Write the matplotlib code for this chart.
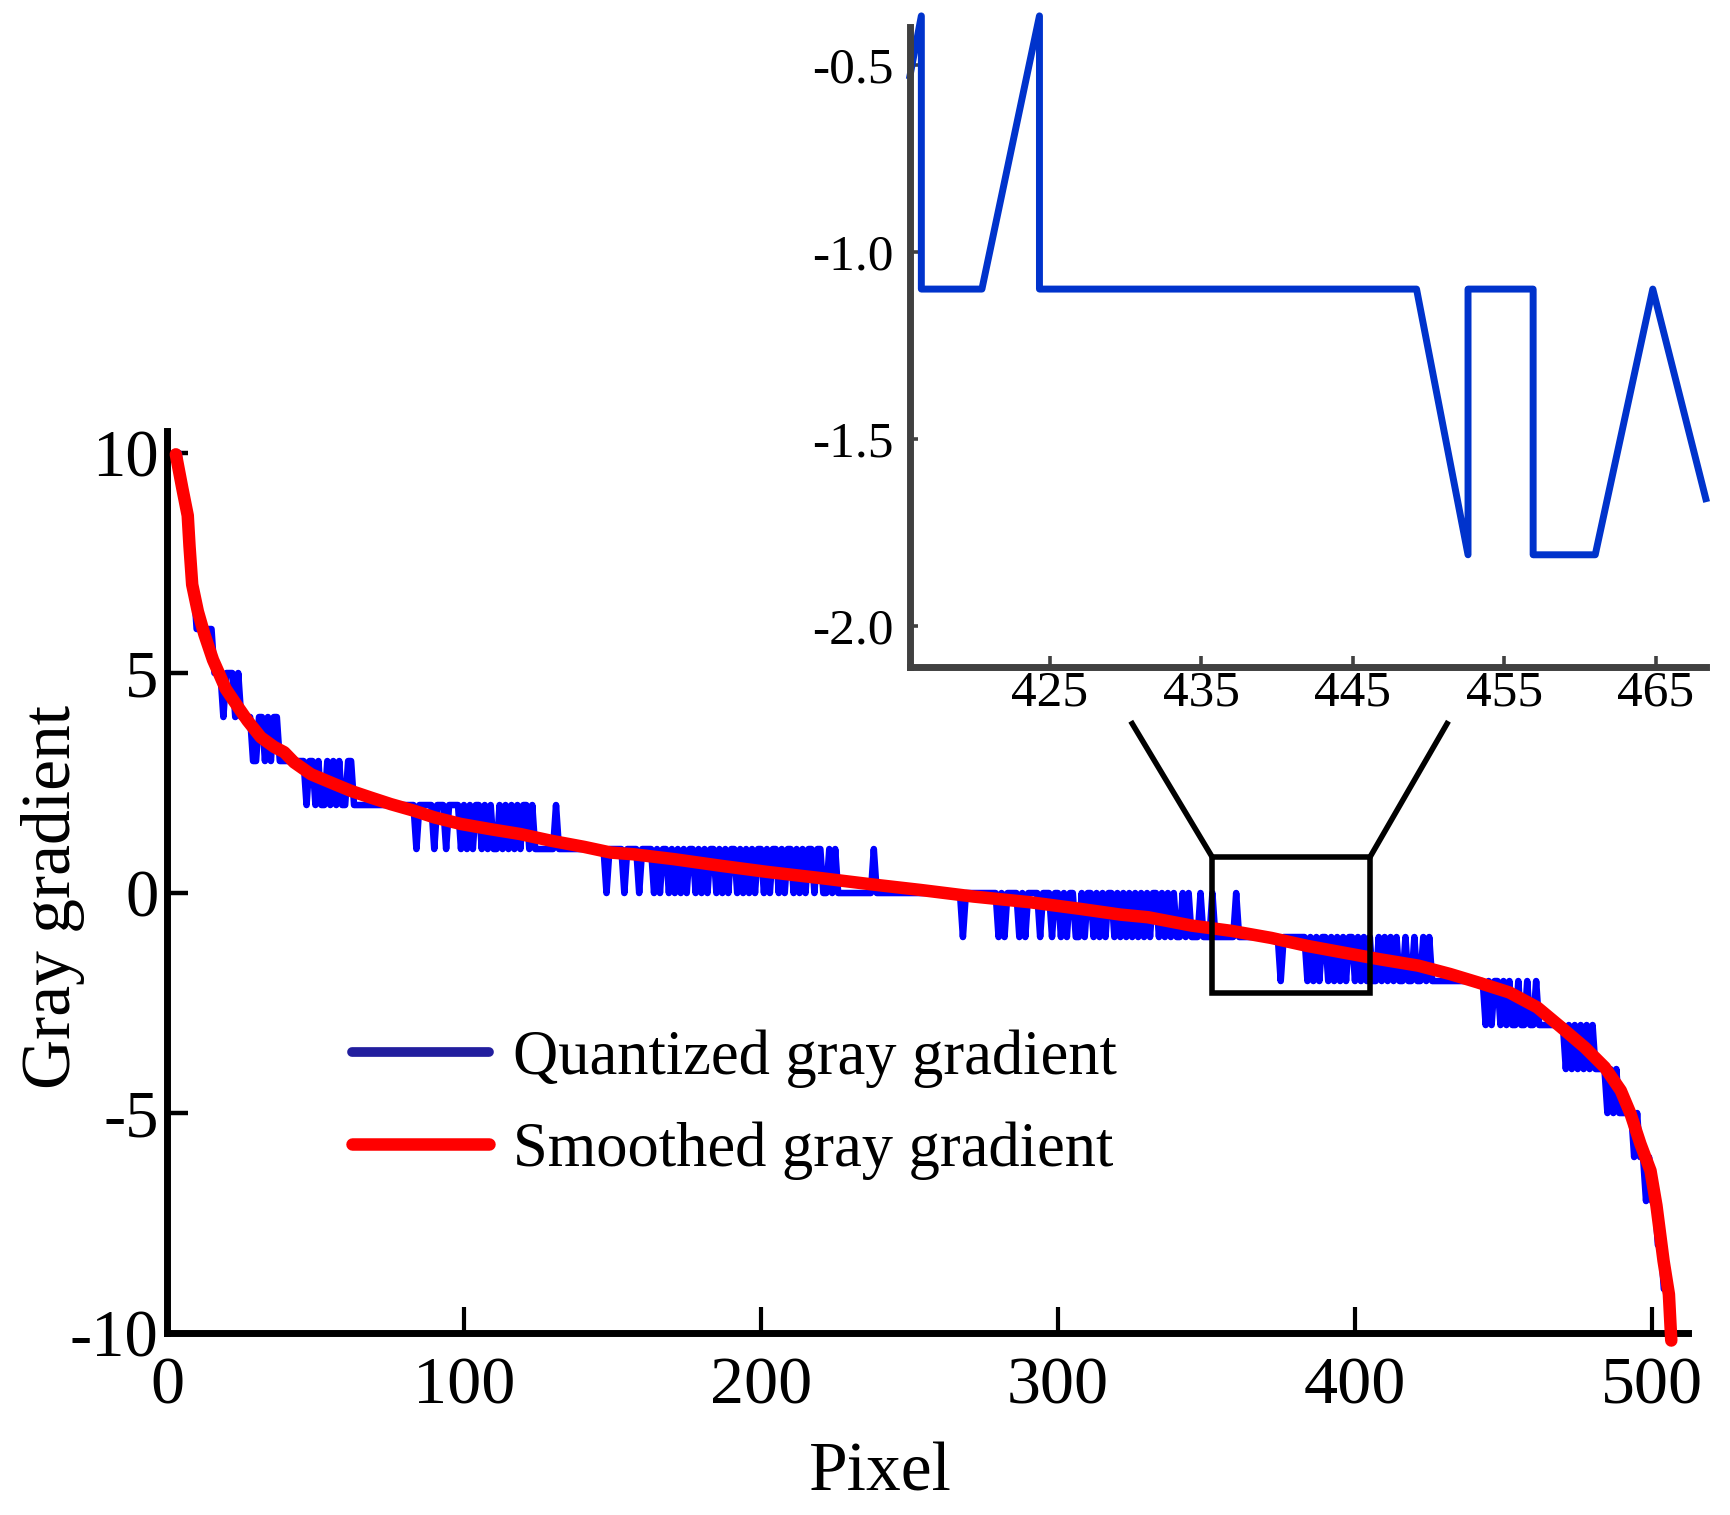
import numpy as np
import matplotlib
matplotlib.use("Agg")
import matplotlib.pyplot as plt
from matplotlib.lines import Line2D
from matplotlib.patches import Rectangle
from matplotlib.ticker import FormatStrFormatter

plt.rcParams['font.family'] = ['Liberation Serif', 'DejaVu Serif']
plt.rcParams['axes.unicode_minus'] = False

# quantized gray gradient, one value per pixel, first value is pixel 3
quantized = [
    10, 10, 9, 9, 8, 8, 7, 6, 6, 6, 6, 6, 6, 5,                     # 3-16
    5, 5, 4, 5, 5, 5, 4, 5, 4,                                      # 17-25
    4, 4, 4, 3, 3, 4, 4, 3, 4, 3, 4, 4, 3,                          # 26-38
    3, 3, 3, 3, 3, 3, 3,                                            # 39-45
    3, 2, 3, 3, 2, 3, 2, 2, 3, 2, 3, 2, 3, 2, 2, 3, 3, 2, 2,        # 46-64
    2, 2, 2, 2, 2, 2, 2, 2, 2, 2, 2, 2, 2, 2, 2, 2, 2, 2,           # 65-82
    2, 1, 2, 2, 2, 2, 2, 1, 2, 2, 2, 1, 2, 2, 2, 2, 1, 2, 1, 2,     # 83-102
    1, 2, 2, 1, 2, 1, 2, 1, 1, 2, 1, 2, 1, 2, 1, 2, 1, 2, 2, 1,     # 103-122
    2, 1, 1, 1, 1, 1, 1, 1, 2, 1,                                   # 123-132
    1, 1, 1, 1, 1, 1, 1, 1, 1, 1, 1, 1, 1,                          # 133-145
    1, 1, 0, 1, 1, 1, 1, 1, 0, 1, 1, 1, 1, 0, 1, 1, 1, 1, 0, 1,     # 146-165
    0, 1, 1, 0, 1, 0, 1, 0, 1, 0, 1, 1, 0, 1, 0, 1, 0, 1, 1, 0,     # 166-185
    1, 0, 1, 0, 1, 1, 0, 1, 0, 1, 0, 1, 0, 1, 1, 0, 1, 0, 1, 1,     # 186-205
    0, 1, 0, 1, 1, 0, 1, 0, 1, 0, 1, 1, 0, 1, 1, 0, 0, 1, 0, 1,     # 206-225
    0, 0, 0, 0, 0, 0, 0, 0, 0, 0, 0, 0, 1, 0,                       # 226-239
    0, 0, 0, 0, 0, 0, 0, 0, 0, 0, 0, 0, 0, 0, 0, 0, 0, 0, 0, 0,     # 240-259
    0, 0, 0, 0, 0, 0, 0,                                            # 260-266
    0, -1, 0, 0, 0, 0, 0, 0, 0, 0, 0, 0, 0, -1, 0, -1, 0, 0, 0, 0,  # 267-286
    -1, 0, -1, 0, 0, 0, 0, -1, 0, 0, 0, -1, 0, 0, -1, 0, -1, 0, 0, -1,  # 287-306
    -1, 0, -1, 0, 0, -1, 0, -1, 0, -1, 0, 0, -1, 0, -1, 0, -1, 0, -1, 0,  # 307-326
    -1, 0, -1, 0, -1, 0, 0, -1, 0, -1, 0, -1, 0, -1, -1, 0, -1, 0, -1, -1,  # 327-346
    -1, 0, -1, -1, -1, 0, -1, -1, -1, -1, -1, -1, -1, 0, -1,        # 347-361
    -1, -1, -1, -1, -1, -1, -1, -1, -1, -1, -1, -1, -1,             # 362-374
    -2, -1, -1, -1, -1, -1, -1, -1, -1, -2, -1, -2, -1, -2, -1, -1, -2, -1, -2, -1,  # 375-394
    -2, -1, -2, -1, -1, -2, -1, -2, -1, -2, -1, -2, -2, -1, -2, -1, -2, -1, -2, -1,  # 395-414
    -2, -2, -1, -2, -2, -1, -2, -2, -1, -2, -1, -2,                 # 415-426
    -2, -2, -2, -2, -2, -2, -2, -2, -2, -2, -2, -2, -2, -2, -2, -2, -2,  # 427-443
    -3, -2, -3, -2, -2, -3, -2, -3, -2, -3, -3, -2, -3, -3, -2, -3, -3, -2, -3,  # 444-462
    -3, -3, -3, -3, -3, -3, -3, -3,                                 # 463-470
    -4, -3, -4, -3, -4, -3, -4, -3, -4, -3, -4,                     # 471-481
    -4, -4, -4,                                                     # 482-484
    -5, -4, -5, -4, -5,                                             # 485-489
    -5, -5, -5, -5,                                                 # 490-493
    -6, -5, -6, -6, -7, -6, -7, -7, -8, -8, -9, -9, -10, -10,       # 494-507
]
pixel = np.arange(3, 3 + len(quantized))

# smoothed gray gradient
smooth_x = [3, 5.2, 7, 7.6, 8.5, 10.4, 12.6, 15.5, 17.6, 19.8, 23.2, 27.1,
            31.6, 36.1, 39.5, 42.8, 48.5, 55.2, 62, 68.6, 75.4, 83.2, 90,
            98.9, 109, 119, 129.2, 140.4, 149.4, 157.2, 170.7, 186.4, 202.1,
            220, 236.9, 253.7, 271.6, 290.7, 307.5, 321, 330.3, 345, 358.4,
            371.8, 383.8, 395.8, 407.9, 421.3, 432, 441.3, 452, 461.4, 469.4,
            477.4, 484.1, 489.5, 492.8, 496.1, 499.5, 501.5, 503.9, 505.7, 506.5]
smooth_y = [9.97, 9.19, 8.58, 7.88, 7.01, 6.40, 5.88, 5.3, 4.98, 4.64, 4.3, 3.92,
            3.54, 3.32, 3.2, 2.97, 2.7, 2.51, 2.32, 2.17, 2.02, 1.87, 1.72,
            1.57, 1.45, 1.34, 1.19, 1.05, 0.92, 0.88, 0.77, 0.62, 0.48,
            0.34, 0.2, 0.07, -0.08, -0.21, -0.36, -0.49, -0.55, -0.74, -0.86,
            -1.02, -1.2, -1.35, -1.5, -1.65, -1.84, -2.03, -2.26, -2.6, -3.05,
            -3.51, -3.96, -4.49, -5.02, -5.7, -6.31, -7.1, -8.36, -9.12, -10.17]

# enlarged view
zoom_x = [415.75, 416.5, 416.5, 420.5, 424.3, 424.3, 449.2, 452.6, 452.6,
          456.9, 456.9, 461.0, 464.8, 468.3]
zoom_y = [-0.53, -0.37, -1.1, -1.1, -0.37, -1.1, -1.1, -1.81, -1.1,
          -1.1, -1.81, -1.81, -1.1, -1.66]

main_xticks = [0, 100, 200, 300, 400, 500]
main_yticks = [-10, -5, 0, 5, 10]
zoom_xticks = [425, 435, 445, 455, 465]
zoom_yticks = [-2.0, -1.5, -1.0, -0.5]

# zoom box in main data coordinates, and the end points of the two links
box_x0, box_x1 = 352, 405
box_y0, box_y1 = -2.27, 0.81
link_x0, link_x1, link_y = 325, 431, 3.85

fig = plt.figure(figsize=(17.3, 15.15), dpi=100)

# main plot
ax = fig.add_axes([0.0965, 0.1201, 0.879, 0.5954])
ax.plot(pixel, quantized, color='#0000FF', lw=4.7, clip_on=False, zorder=2)
ax.plot(smooth_x, smooth_y, color='#FF0000', lw=9, solid_capstyle='round',
        clip_on=False, zorder=3)
ax.set_xlim(0, 512)
ax.set_ylim(-10, 10.5)
ax.set_xticks(main_xticks)
ax.set_yticks(main_yticks)
for s in ['top', 'right']:
    ax.spines[s].set_visible(False)
for s in ['left', 'bottom']:
    ax.spines[s].set_linewidth(5)
ax.tick_params(axis='x', direction='in', length=19, width=3, pad=17, labelsize=49)
ax.tick_params(axis='y', direction='in', length=15, width=3.2, pad=6, labelsize=48)
ax.set_xlabel('Pixel', fontsize=50)
ax.xaxis.set_label_coords(0.469, -0.121)
ax.set_ylabel('Gray gradient', fontsize=50)
ax.yaxis.set_label_coords(-0.054, 0.483)

# zoom box and links to the inset
ax.add_patch(Rectangle((box_x0, box_y0), box_x1 - box_x0, box_y1 - box_y0,
                       fill=False, ec='black', lw=4, zorder=4))
ax.plot([box_x0, link_x0], [box_y1, link_y], color='black', lw=4, clip_on=False)
ax.plot([box_x1, link_x1], [box_y1, link_y], color='black', lw=4, clip_on=False)

handles = [Line2D([], [], color='#221E9E', lw=7, solid_capstyle='round'),
           Line2D([], [], color='#FF0000', lw=9, solid_capstyle='round')]
ax.legend(handles, ['Quantized gray gradient', 'Smoothed gray gradient'],
          loc='center left', bbox_to_anchor=(0.1216, 0.253), frameon=False,
          fontsize=45, handlelength=2.2, handletextpad=0.38, labelspacing=0.54,
          borderpad=0, borderaxespad=0)

# inset
ax2 = fig.add_axes([0.526, 0.5597, 0.460, 0.4224])
ax2.patch.set_alpha(0)
ax2.plot(zoom_x, zoom_y, color='#0033CC', lw=5, clip_on=False)
ax2.set_xlim(415.75, 468.3)
ax2.set_ylim(-2.11, -0.40)
ax2.set_xticks(zoom_xticks)
ax2.set_yticks(zoom_yticks)
ax2.yaxis.set_major_formatter(FormatStrFormatter('%.1f'))
for s in ['top', 'right']:
    ax2.spines[s].set_visible(False)
for s in ['left', 'bottom']:
    ax2.spines[s].set_linewidth(5)
    ax2.spines[s].set_color('#404040')
ax2.tick_params(axis='x', direction='in', length=8, width=2.6, pad=2,
                labelsize=37, color='#404040')
ax2.tick_params(axis='y', direction='in', length=5.5, width=2.6, pad=12,
                labelsize=37, color='#404040')

fig.savefig('out.png', dpi=100, facecolor='white')
